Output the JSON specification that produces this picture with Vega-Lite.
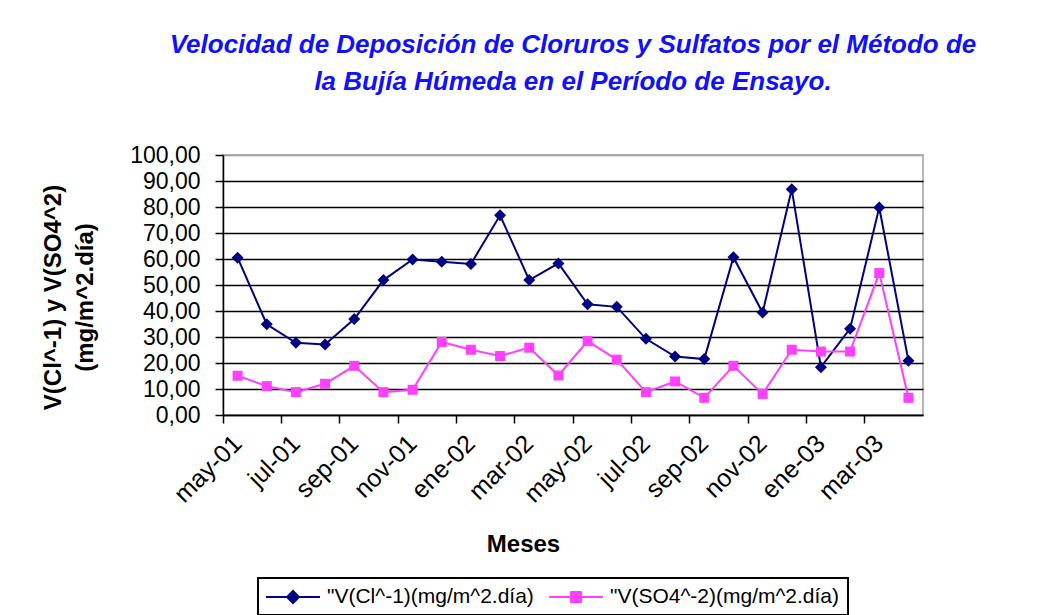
{
  "$schema": "https://vega.github.io/schema/vega-lite/v6.json",
  "width": 700,
  "height": 260,
  "autosize": {"type": "none"},
  "padding": {"left": 223, "top": 155, "right": 116, "bottom": 200},
  "background": "white",
  "config": {
    "view": {"stroke": "#a0a0a0", "strokeWidth": 1.5},
    "font": "Liberation Sans"
  },
  "title": {
    "text": ["Velocidad de Deposición de Cloruros y Sulfatos por el Método de", "la Bujía Húmeda en el Período de Ensayo."],
    "font": "Liberation Sans",
    "fontSize": 26,
    "fontWeight": "bold",
    "fontStyle": "italic",
    "color": "#1010ff",
    "anchor": "middle",
    "lineHeight": 37,
    "offset": 49
  },
  "data": {
    "values": [
      {"mes": "may-01", "serie": "Cl", "valor": 60.5},
      {"mes": "jun-01", "serie": "Cl", "valor": 34.9},
      {"mes": "jul-01", "serie": "Cl", "valor": 27.8},
      {"mes": "ago-01", "serie": "Cl", "valor": 27.1},
      {"mes": "sep-01", "serie": "Cl", "valor": 36.9},
      {"mes": "oct-01", "serie": "Cl", "valor": 51.9},
      {"mes": "nov-01", "serie": "Cl", "valor": 59.8},
      {"mes": "dic-01", "serie": "Cl", "valor": 58.9},
      {"mes": "ene-02", "serie": "Cl", "valor": 58.1},
      {"mes": "feb-02", "serie": "Cl", "valor": 76.8},
      {"mes": "mar-02", "serie": "Cl", "valor": 51.9},
      {"mes": "abr-02", "serie": "Cl", "valor": 58.3},
      {"mes": "may-02", "serie": "Cl", "valor": 42.6},
      {"mes": "jun-02", "serie": "Cl", "valor": 41.6},
      {"mes": "jul-02", "serie": "Cl", "valor": 29.3},
      {"mes": "ago-02", "serie": "Cl", "valor": 22.5},
      {"mes": "sep-02", "serie": "Cl", "valor": 21.5},
      {"mes": "oct-02", "serie": "Cl", "valor": 60.7},
      {"mes": "nov-02", "serie": "Cl", "valor": 39.4},
      {"mes": "dic-02", "serie": "Cl", "valor": 86.8},
      {"mes": "ene-03", "serie": "Cl", "valor": 18.4},
      {"mes": "feb-03", "serie": "Cl", "valor": 33.2},
      {"mes": "mar-03", "serie": "Cl", "valor": 79.8},
      {"mes": "abr-03", "serie": "Cl", "valor": 20.9},
      {"mes": "may-01", "serie": "SO4", "valor": 15.1},
      {"mes": "jun-01", "serie": "SO4", "valor": 11.1},
      {"mes": "jul-01", "serie": "SO4", "valor": 8.8},
      {"mes": "ago-01", "serie": "SO4", "valor": 12.0},
      {"mes": "sep-01", "serie": "SO4", "valor": 18.9},
      {"mes": "oct-01", "serie": "SO4", "valor": 8.8},
      {"mes": "nov-01", "serie": "SO4", "valor": 9.7},
      {"mes": "dic-01", "serie": "SO4", "valor": 28.1},
      {"mes": "ene-02", "serie": "SO4", "valor": 25.1},
      {"mes": "feb-02", "serie": "SO4", "valor": 22.7},
      {"mes": "mar-02", "serie": "SO4", "valor": 25.9},
      {"mes": "abr-02", "serie": "SO4", "valor": 15.2},
      {"mes": "may-02", "serie": "SO4", "valor": 28.4},
      {"mes": "jun-02", "serie": "SO4", "valor": 21.3},
      {"mes": "jul-02", "serie": "SO4", "valor": 8.8},
      {"mes": "ago-02", "serie": "SO4", "valor": 12.9},
      {"mes": "sep-02", "serie": "SO4", "valor": 6.6},
      {"mes": "oct-02", "serie": "SO4", "valor": 18.9},
      {"mes": "nov-02", "serie": "SO4", "valor": 8.1},
      {"mes": "dic-02", "serie": "SO4", "valor": 25.1},
      {"mes": "ene-03", "serie": "SO4", "valor": 24.4},
      {"mes": "feb-03", "serie": "SO4", "valor": 24.4},
      {"mes": "mar-03", "serie": "SO4", "valor": 54.6},
      {"mes": "abr-03", "serie": "SO4", "valor": 6.6}
    ]
  },
  "encoding": {
    "x": {
      "field": "mes",
      "type": "ordinal",
      "scale": {
        "type": "band",
        "paddingInner": 0,
        "paddingOuter": 0,
        "domain": ["may-01", "jun-01", "jul-01", "ago-01", "sep-01", "oct-01", "nov-01", "dic-01", "ene-02", "feb-02", "mar-02", "abr-02", "may-02", "jun-02", "jul-02", "ago-02", "sep-02", "oct-02", "nov-02", "dic-02", "ene-03", "feb-03", "mar-03", "abr-03"]
      },
      "axis": {
        "title": "Meses",
        "values": ["may-01", "jul-01", "sep-01", "nov-01", "ene-02", "mar-02", "may-02", "jul-02", "sep-02", "nov-02", "ene-03", "mar-03"],
        "bandPosition": 0,
        "labelAngle": -45,
        "labelAlign": "right",
        "labelBaseline": "middle",
        "labelFont": "Liberation Sans",
        "labelFontSize": 25,
        "labelColor": "black",
        "labelPadding": 16,
        "labelOverlap": false,
        "tickSize": 8,
        "tickColor": "black",
        "tickWidth": 1.5,
        "domainColor": "black",
        "domainWidth": 1.5,
        "grid": false,
        "titleFont": "Liberation Sans",
        "titleFontSize": 24,
        "titleFontWeight": "bold",
        "titleColor": "black",
        "titleX": 300,
        "titleY": 129,
        "titleAlign": "center",
        "titleBaseline": "middle"
      }
    },
    "y": {
      "field": "valor",
      "type": "quantitative",
      "scale": {"domain": [0, 100], "nice": false},
      "axis": {
        "title": ["V(Cl^-1) y V(SO4^2)", "(mg/m^2.día)"],
        "values": [0, 10, 20, 30, 40, 50, 60, 70, 80, 90, 100],
        "labelExpr": "replace(format(datum.value, '.2f'), '.', ',')",
        "labelFont": "Liberation Sans",
        "labelFontSize": 23,
        "labelColor": "black",
        "labelPadding": 15,
        "tickSize": 8,
        "tickColor": "black",
        "tickWidth": 1.5,
        "domainColor": "black",
        "domainWidth": 1.5,
        "grid": true,
        "gridColor": {"condition": {"test": "datum.value == 100", "value": "#a0a0a0"}, "value": "black"},
        "gridWidth": 1.3,
        "gridOpacity": 1,
        "titleFont": "Liberation Sans",
        "titleFontSize": 24,
        "titleFontWeight": "bold",
        "titleColor": "black",
        "titleAngle": -90,
        "titleAlign": "center",
        "titleBaseline": "top",
        "titleLineHeight": 32,
        "titleX": -182,
        "titleY": 142
      }
    },
    "color": {
      "field": "serie",
      "type": "nominal",
      "scale": {"domain": ["Cl", "SO4"], "range": ["#000080", "#ff40ff"]},
      "legend": {
        "orient": "none",
        "legendX": 35,
        "legendY": 423,
        "direction": "horizontal",
        "title": null,
        "labelExpr": "datum.value == 'Cl' ? '\"V(Cl^-1)(mg/m^2.día)' : '\"V(SO4^-2)(mg/m^2.día)'",
        "labelLimit": 600,
        "strokeColor": "black",
        "fillColor": "white",
        "padding": 8,
        "labelFont": "Liberation Sans",
        "labelFontSize": 21,
        "labelColor": "black",
        "labelOffset": 23,
        "columnPadding": 11,
        "symbolOffset": 16,
        "symbolSize": 400,
        "symbolStrokeWidth": 2,
        "encode": {
          "legend": {"update": {"strokeWidth": {"value": 2}}},
          "symbols": {
            "update": {
              "shape": {"signal": "datum.value == 'Cl' ? 'M-2.7,0H2.7M0,-0.6L0.6,0L0,0.6L-0.6,0Z' : 'M-2.7,0H2.7M-0.5,-0.5H0.5V0.5H-0.5Z'"},
              "fill": {"signal": "scale('color', datum.value)"},
              "stroke": {"signal": "scale('color', datum.value)"}
            }
          }
        }
      }
    }
  },
  "layer": [
    {"mark": {"type": "line", "strokeWidth": 2}},
    {
      "mark": {"type": "point", "filled": true, "opacity": 1},
      "encoding": {
        "shape": {"condition": {"test": "datum.serie == 'Cl'", "value": "diamond"}, "value": "square"},
        "size": {"condition": {"test": "datum.serie == 'Cl'", "value": 144}, "value": 100}
      }
    }
  ]
}
